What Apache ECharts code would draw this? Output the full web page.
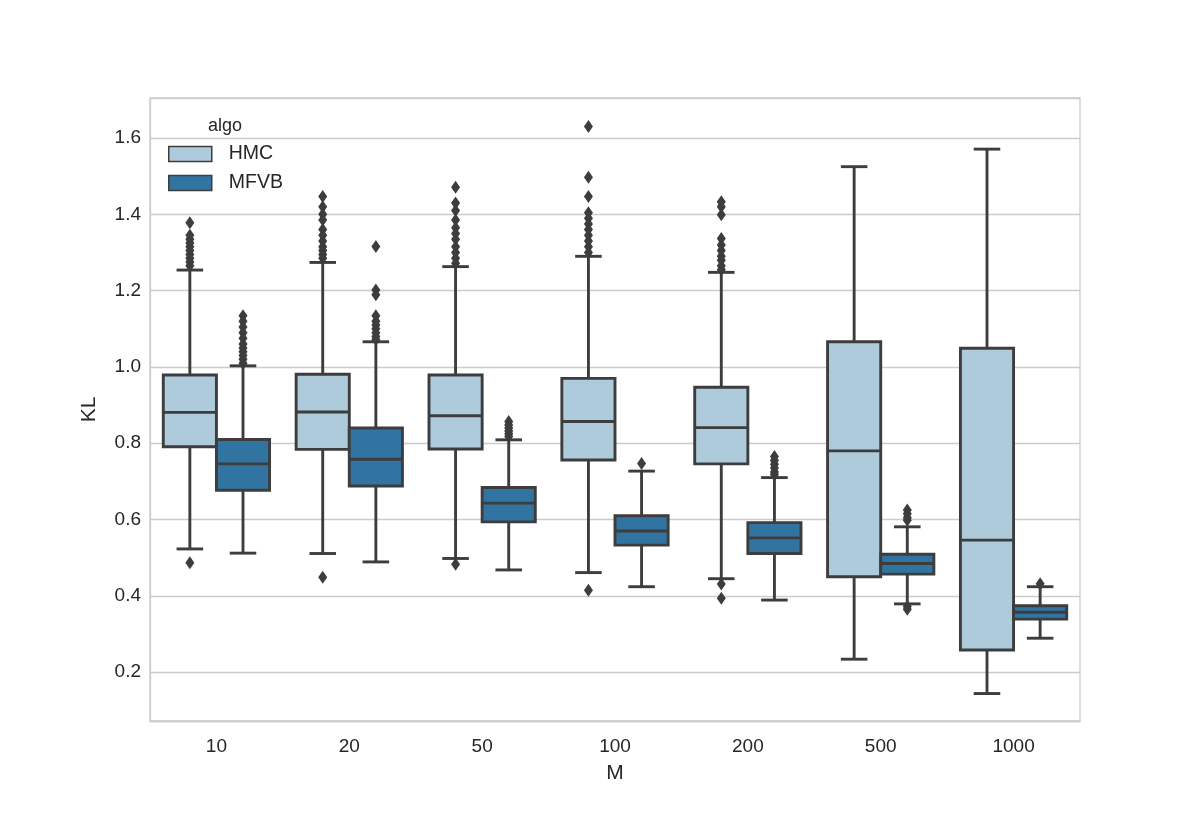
<!DOCTYPE html>
<html>
<head>
<meta charset="utf-8">
<script src="https://cdn.jsdelivr.net/npm/echarts@6/dist/echarts.min.js"></script>
<style>
    html, body { margin: 0; padding: 0; background: #fff; }
    #chart { width: 1200px; height: 825px; }
</style>
</head>
<body>
<div id="chart"></div>
<script>
const categories = ['10', '20', '50', '100', '200', '500', '1000'];
const yTicks = [0.2, 0.4, 0.6, 0.8, 1.0, 1.2, 1.4, 1.6];

// [lower whisker, Q1, median, Q3, upper whisker]
const hmcStats = [
    [0.523, 0.791, 0.881, 0.979, 1.254],
    [0.511, 0.784, 0.882, 0.981, 1.274],
    [0.498, 0.785, 0.872, 0.979, 1.263],
    [0.461, 0.756, 0.857, 0.970, 1.290],
    [0.445, 0.746, 0.841, 0.947, 1.248],
    [0.234, 0.450, 0.780, 1.066, 1.525],
    [0.144, 0.258, 0.546, 1.049, 1.571],
];
const mfvbStats = [
    [0.512, 0.677, 0.746, 0.810, 1.003],
    [0.489, 0.688, 0.758, 0.840, 1.066],
    [0.468, 0.594, 0.643, 0.684, 0.809],
    [0.424, 0.533, 0.570, 0.610, 0.727],
    [0.389, 0.511, 0.552, 0.592, 0.710],
    [0.379, 0.457, 0.485, 0.509, 0.581],
    [0.289, 0.339, 0.357, 0.374, 0.424],
];

const hmcOutliers = [
    [1.378, 1.345, 1.335, 1.325, 1.315, 1.305, 1.295, 1.285, 1.275, 1.265, 0.487],
    [1.447, 1.420, 1.400, 1.385, 1.360, 1.345, 1.330, 1.315, 1.305, 1.295, 1.285, 0.449],
    [1.471, 1.430, 1.410, 1.385, 1.365, 1.350, 1.335, 1.315, 1.300, 1.285, 1.272, 0.483],
    [1.630, 1.497, 1.447, 1.404, 1.390, 1.375, 1.360, 1.345, 1.330, 1.315, 1.300, 0.415],
    [1.433, 1.420, 1.399, 1.337, 1.320, 1.305, 1.290, 1.280, 1.265, 1.255, 0.431, 0.394],
    [],
    [],
];
const mfvbOutliers = [
    [1.134, 1.120, 1.105, 1.090, 1.075, 1.060, 1.050, 1.040, 1.030, 1.020, 1.010],
    [1.316, 1.202, 1.189, 1.134, 1.120, 1.110, 1.100, 1.090, 1.080, 1.072],
    [0.857, 0.848, 0.840, 0.832, 0.825, 0.818],
    [0.747],
    [0.765, 0.755, 0.745, 0.735, 0.725, 0.718],
    [0.625, 0.615, 0.605, 0.598, 0.372, 0.365],
    [0.432],
];

const HMC_COLOR = '#aecbdc';
const MFVB_COLOR = '#3274a1';
const EDGE = '#3d3d3d';
const GRID_LINE = '#cccccc';
const TEXT = '#262626';
const FONT = "'Liberation Sans', Arial, sans-serif";

const OFFSET = 0.2;     // dodge per hue, in category units
const HALF_BOX = 0.2;   // half box width
const HALF_CAP = 0.1;   // half whisker cap width

function boxData(stats, dx) {
    return stats.map((s, i) => [i + dx, ...s]);
}
function outlierData(list, dx) {
    const out = [];
    list.forEach((vals, i) => vals.forEach(v => out.push([i + dx, v])));
    return out;
}

function renderBox(params, api) {
    const x = api.value(0);
    const lo = api.value(1), q1 = api.value(2), med = api.value(3), q3 = api.value(4), hi = api.value(5);
    const pL = api.coord([x - HALF_BOX, q3]);
    const pR = api.coord([x + HALF_BOX, q1]);
    const c = (v) => api.coord([x, v]);
    const capL = api.coord([x - HALF_CAP, 0])[0];
    const capR = api.coord([x + HALF_CAP, 0])[0];
    const color = api.visual('color');
    const line = { stroke: EDGE, lineWidth: 2.9 };
    const cx = c(med)[0];
    return {
        type: 'group',
        children: [
            { type: 'line', shape: { x1: cx, y1: c(q1)[1], x2: cx, y2: c(lo)[1] }, style: line },
            { type: 'line', shape: { x1: cx, y1: c(q3)[1], x2: cx, y2: c(hi)[1] }, style: line },
            { type: 'line', shape: { x1: capL, y1: c(lo)[1], x2: capR, y2: c(lo)[1] }, style: line },
            { type: 'line', shape: { x1: capL, y1: c(hi)[1], x2: capR, y2: c(hi)[1] }, style: line },
            {
                type: 'rect',
                shape: { x: pL[0], y: pL[1], width: pR[0] - pL[0], height: pR[1] - pL[1] },
                style: { fill: color, stroke: EDGE, lineWidth: 2.9 }
            },
            { type: 'line', shape: { x1: pL[0], y1: c(med)[1], x2: pR[0], y2: c(med)[1] }, style: line },
        ]
    };
}

const chart = echarts.init(document.getElementById('chart'), null, { renderer: 'canvas' });
chart.setOption({
    backgroundColor: '#fff',
    animation: false,
    textStyle: { fontFamily: FONT },
    title: {
        text: 'algo',
        left: 203, top: 112,
        textStyle: { fontSize: 18, fontWeight: 'normal', color: TEXT, fontFamily: FONT }
    },
    legend: {
        data: [{ name: 'HMC', icon: 'rect' }, { name: 'MFVB', icon: 'rect' }],
        orient: 'vertical',
        left: 163, top: 139,
        itemWidth: 43, itemHeight: 15,
        itemGap: 9,
        selectedMode: false,
        itemStyle: { borderColor: EDGE, borderWidth: 1.5 },
        textStyle: { fontSize: 19.5, color: TEXT, fontFamily: FONT, padding: [0, 0, 0, 12] }
    },
    grid: {
        left: 150, right: 120, top: 98, bottom: 104,
        show: true, borderColor: GRID_LINE, borderWidth: 1.3,
        containLabel: false
    },
    xAxis: [
        {
            type: 'category',
            data: categories,
            boundaryGap: true,
            name: 'M',
            nameLocation: 'middle',
            nameGap: 42,
            nameTextStyle: { fontSize: 21, color: TEXT, fontFamily: FONT },
            axisLine: { show: true, onZero: false, lineStyle: { color: GRID_LINE, width: 1.3 } },
            axisTick: { show: false },
            axisLabel: { fontSize: 19, color: TEXT, margin: 16, fontFamily: FONT },
            splitLine: { show: false }
        },
        { type: 'value', min: -0.5, max: 6.5, show: false }
    ],
    yAxis: {
        type: 'value',
        min: 0.072, max: 1.705,
        splitNumber: 8,
        name: 'KL',
        nameLocation: 'middle',
        nameGap: 50,
        nameTextStyle: { fontSize: 21, color: TEXT, fontFamily: FONT },
        axisLine: { show: true, onZero: false, lineStyle: { color: GRID_LINE, width: 1.3 } },
        axisTick: { show: false },
        axisLabel: {
            fontSize: 19, color: TEXT, margin: 9, fontFamily: FONT,
            showMinLabel: false, showMaxLabel: false,
            formatter: v => yTicks.some(t => Math.abs(t - v) < 1e-6) ? v.toFixed(1) : ''
        },
        splitLine: { show: true, lineStyle: { color: GRID_LINE, width: 1.3 } }
    },
    series: [
        {
            name: 'HMC', type: 'custom', xAxisIndex: 1,
            itemStyle: { color: HMC_COLOR },
            renderItem: renderBox,
            encode: { x: 0, y: [1, 2, 3, 4, 5] },
            data: boxData(hmcStats, -OFFSET)
        },
        {
            name: 'MFVB', type: 'custom', xAxisIndex: 1,
            itemStyle: { color: MFVB_COLOR },
            renderItem: renderBox,
            encode: { x: 0, y: [1, 2, 3, 4, 5] },
            data: boxData(mfvbStats, OFFSET)
        },
        {
            name: 'HMC outliers', type: 'scatter', xAxisIndex: 1,
            symbol: 'diamond', symbolSize: [9, 13],
            itemStyle: { color: EDGE, opacity: 1 },
            data: outlierData(hmcOutliers, -OFFSET)
        },
        {
            name: 'MFVB outliers', type: 'scatter', xAxisIndex: 1,
            symbol: 'diamond', symbolSize: [9, 13],
            itemStyle: { color: EDGE, opacity: 1 },
            data: outlierData(mfvbOutliers, OFFSET)
        }
    ]
});
</script>
</body>
</html>
